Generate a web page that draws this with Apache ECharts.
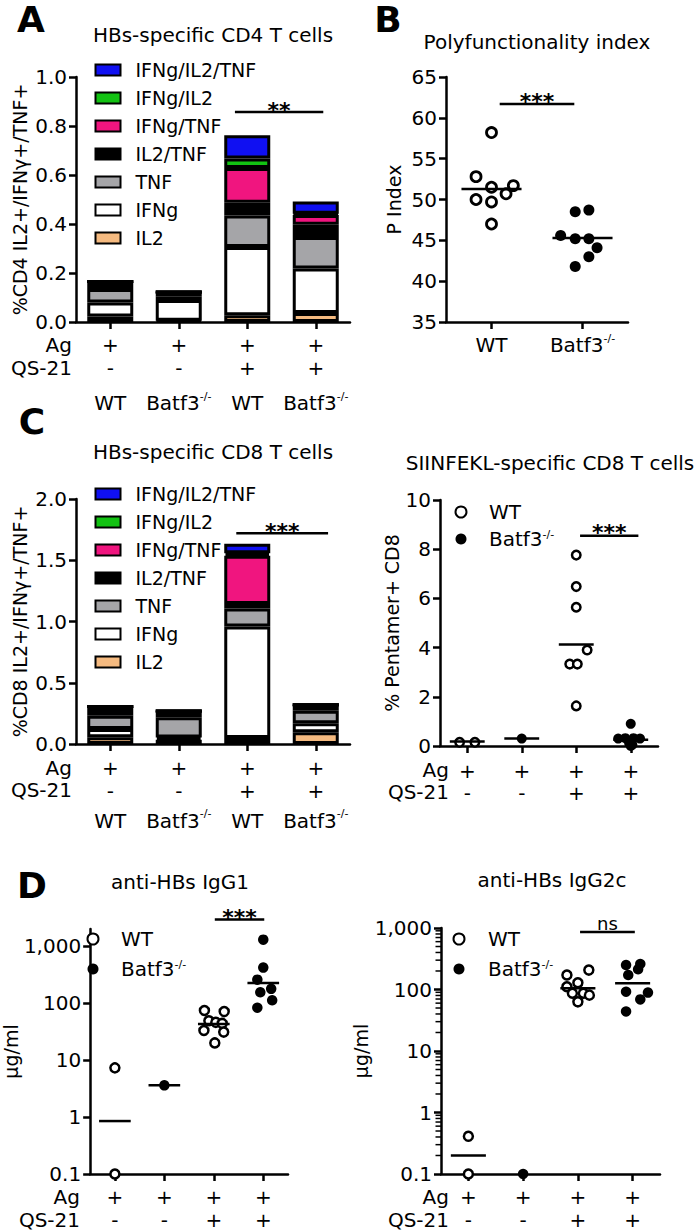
<!DOCTYPE html>
<html><head><meta charset="utf-8">
<script src="https://cdn.jsdelivr.net/npm/echarts@6/dist/echarts.min.js"></script>
<style>html,body{margin:0;padding:0;background:#fff}#c{width:700px;height:1231px}</style>
</head><body><div id="c"></div>
<script>
const FONT = 'DejaVu Sans';
// ---------- categories / tick rows ----------
const barGroups = ['WT', 'Batf3-/-', 'WT', 'Batf3-/-'];
const agRow = ['+', '+', '+', '+'];
const qsRow = ['-', '-', '+', '+'];
const bGroups = ['WT', 'Batf3-/-'];
const cytokines = ['IL2', 'IFNg', 'TNF', 'IL2/TNF', 'IFNg/TNF', 'IFNg/IL2', 'IFNg/IL2/TNF'];
const cytoColors = ['#F5BA80', '#FFFFFF', '#A5A5A8', '#000000', '#F0157F', '#12C212', '#1010F2'];
const logTicks = [0.1, 1, 10, 100, 1000];

// ---------- Panel A: CD4 stacked bars ----------
const aIL2     = [0.022, 0.005, 0.028, 0.037];
const aIFNg    = [0.058, 0.085, 0.278, 0.181];
const aTNF     = [0.055, 0.015, 0.129, 0.129];
const aIL2TNF  = [0.030, 0.017, 0.052, 0.050];
const aIFNgTNF = [0, 0, 0.142, 0.040];
const aIFNgIL2 = [0, 0, 0.038, 0.005];
const aTriple  = [0, 0, 0.095, 0.050];
const aSig = [[1.82, 3.11, 0.857]]; const aSigText = ['**'];

// ---------- Panel B: polyfunctionality ----------
const bWT  = [58.2, 52.8, 51.5, 51.7, 50.7, 50.0, 49.7, 47.0];
const bWTdx = [0, -0.17, 0, 0.24, 0.16, -0.17, 0, 0];
const bKO  = [48.5, 48.7, 45.6, 45.2, 45.2, 44.1, 43.0, 41.8];
const bKOdx = [-0.08, 0.07, -0.24, -0.08, 0.07, 0.16, 0.07, -0.08];
const bMeans = [51.3, 45.3];
const bSig = [[0.09, 0.91, 61.7]]; const bSigText = ['***'];

// ---------- Panel C left: CD8 stacked bars ----------
const cIL2     = [0.055, 0.035, 0.049, 0.095];
const cIFNg    = [0.067, 0.018, 0.911, 0.074];
const cTNF     = [0.109, 0.165, 0.146, 0.103];
const cIL2TNF  = [0.075, 0.052, 0.036, 0.048];
const cIFNgTNF = [0, 0, 0.395, 0];
const cIFNgIL2 = [0, 0, 0.020, 0];
const cTriple  = [0, 0, 0.078, 0];
const cSig = [[1.84, 3.18, 1.72]]; const cSigText = ['***'];

// ---------- Panel C right: pentamer ----------
const pWT0 = [0.15, 0.15];                          const pWT0dx = [-0.14, 0.14];
const pKO1 = [0.30];                                const pKO1dx = [0];
const pWT2 = [7.76, 6.48, 5.64, 3.9, 3.33, 3.33, 1.63]; const pWT2dx = [0, 0, 0, 0.2, -0.12, 0.02, 0];
const pKO3 = [0.9, 0.3, 0.32, 0.32, 0.3, 0.12, 0.05, 0.0]; const pKO3dx = [0, -0.23, -0.1, 0.05, 0.17, -0.03, 0.03, 0];
const pMeans = [0.18, 0.30, 4.13, 0.25];
const pSig = [[2.07, 3.14, 8.55]]; const pSigText = ['***'];

// ---------- Panel D left: IgG1 ----------
const g1WT0 = [7.3, 0.1];      const g1WT0dx = [0, 0];
const g1KO1 = [3.6];           const g1KO1dx = [0];
const g1WT2 = [74, 71, 49, 46, 44, 33, 31, 20]; const g1WT2dx = [-0.19, 0.21, -0.1, 0.04, 0.17, -0.2, 0.2, 0.02];
const g1KO3 = [1300, 420, 258, 178, 155, 112, 83]; const g1KO3dx = [0, 0, -0.12, 0.16, -0.06, 0.18, -0.12];
const g1Means = [0.85, 3.6, 43, 225];
const g1Sig = [[2.02, 3.02, 2950]]; const g1SigText = ['***'];

// ---------- Panel D right: IgG2c ----------
const g2WT0 = [0.41, 0.1];     const g2WT0dx = [0, 0];
const g2KO1 = [0.1];           const g2KO1dx = [0];
const g2WT2 = [207, 172, 129, 111, 87, 87, 81, 63]; const g2WT2dx = [0.2, -0.2, 0, -0.2, -0.1, 0.1, 0.21, 0];
const g2KO3 = [250, 260, 213, 172, 92, 89, 69, 44]; const g2KO3dx = [-0.12, 0.14, 0.1, -0.08, -0.12, 0.28, 0.14, -0.12];
const g2Means = [0.2, null, 105, 126];
const g2Sig = [[2.04, 3.04, 861]]; const g2SigText = ['ns'];
// log minor tick positions (2..9 within each decade) for the IgG2c axis
const logMinorSteps = [2, 3, 4, 5, 6, 7, 8, 9];
const logDecades = [0.1, 1, 10, 100];

// ---------- helpers ----------
const chart = echarts.init(document.getElementById('c'), null, {renderer: 'svg'});
const axisLine = {show: true, onZero: false, lineStyle: {color: '#000', width: 2.5}};
const axisTick = {show: true, length: 7, lineStyle: {color: '#000', width: 2.5}};
const lbl = {fontFamily: FONT, fontSize: 20, color: '#000'};

function rich(L) {
  return {
    p: {fontFamily: FONT, color: '#000', fontSize: 20, lineHeight: 23},
    q: {fontFamily: FONT, color: '#000', fontSize: 20, lineHeight: 22},
    g: {fontFamily: FONT, color: '#000', fontSize: 20, lineHeight: L},
    s: {fontFamily: FONT, color: '#000', fontSize: 11, verticalAlign: 'top',
        padding: [Math.max(L / 2 - 12.5, 0), 0, 0, 0]}
  };
}
function grp(name) {
  return name.endsWith('-/-') ? '{g|' + name.slice(0, -3) + '}{s|-/-}' : '{g|' + name + '}';
}
function pts(list) { // list of [groupIndex, values, offsets]
  const out = [];
  list.forEach(([g, vals, dx]) => vals.forEach((v, i) => out.push([g + dx[i], v])));
  return out;
}
function meanItem(hw) {
  return function (params, api) {
    const x = api.value(0), y = api.value(1);
    const a = api.coord([x - hw, y]), b = api.coord([x + hw, y]);
    return {type: 'line', shape: {x1: a[0], y1: a[1], x2: b[0], y2: b[1]}, style: {stroke: '#000', lineWidth: 2.5}};
  };
}
function sigItem(texts, fontSize, dy, bold) {
  return function (params, api) {
    const a = api.coord([api.value(0), api.value(2)]), b = api.coord([api.value(1), api.value(2)]);
    return {type: 'group', children: [
      {type: 'line', shape: {x1: a[0], y1: a[1], x2: b[0], y2: a[1]}, style: {stroke: '#000', lineWidth: 2.5}},
      {type: 'text', style: {text: texts[params.dataIndex], x: (a[0] + b[0]) / 2, y: a[1] + dy,
        align: 'center', verticalAlign: 'middle', textAlign: 'center', textVerticalAlign: 'middle',
        fontFamily: FONT, fontSize: fontSize, fontWeight: bold ? 'bold' : 'normal', fill: '#000'}}
    ]};
  };
}
function minorTickItem(len) {
  return function (params, api) {
    const p = api.coord([api.value(0), api.value(1)]);
    return {type: 'line', shape: {x1: p[0] - len, y1: p[1], x2: p[0], y2: p[1]}, style: {stroke: '#000', lineWidth: 1.5}};
  };
}
function logLabel(v) {
  const l = Math.log10(v);
  if (Math.abs(l - Math.round(l)) > 1e-6) return '';
  return Math.pow(10, Math.round(l)).toLocaleString('en-US');
}

// ---------- grids ----------
const grids = [
  {left: 76, top: 77, width: 274, height: 245},   // A
  {left: 446, top: 77, width: 182, height: 245},  // B
  {left: 76, top: 499, width: 274, height: 245},  // C left
  {left: 440, top: 500, width: 218, height: 246}, // C right
  {left: 72, top: 929, width: 216, height: 245},  // D left
  {left: 441, top: 928, width: 219, height: 246}  // D right
];

function catAxis(gi, data, formatter, margin, richObj) {
  return {type: 'category', gridIndex: gi, data: data,
    axisLine: axisLine, axisTick: Object.assign({alignWithLabel: true}, axisTick),
    axisLabel: {interval: 0, margin: margin, formatter: formatter, rich: richObj, color: '#000'},
    splitLine: {show: false}};
}
function hidX(gi, n) { return {type: 'value', gridIndex: gi, min: -0.5, max: n - 0.5, show: false}; }

const barFmt = (v, i) => '{p|' + agRow[i] + '}\n{p|' + qsRow[i] + '}\n' + grp(barGroups[i]);
const rowFmt = (v, i) => '{p|' + agRow[i] + '}\n{q|' + qsRow[i] + '}';
const cats = barGroups.map((g, i) => g + ' ' + agRow[i] + qsRow[i] + i);

const xAxes = [
  catAxis(0, cats, barFmt, 11.5, rich(47)), hidX(0, 4),
  catAxis(1, bGroups, (v) => grp(v), 10, rich(26)), hidX(1, 2),
  catAxis(2, cats, barFmt, 12.5, rich(36)), hidX(2, 4),
  catAxis(3, cats, rowFmt, 13, rich(23)), hidX(3, 4),
  catAxis(4, cats, rowFmt, 11.5, rich(23)), hidX(4, 4),
  catAxis(5, cats, rowFmt, 11.5, rich(23)), hidX(5, 4)
];

function valAxis(gi, o) {
  return Object.assign({type: 'value', gridIndex: gi, axisLine: axisLine, axisTick: axisTick,
    splitLine: {show: false}, nameLocation: 'middle', nameRotate: 90,
    nameTextStyle: {fontFamily: FONT, fontSize: 19, color: '#000'},
    axisLabel: Object.assign({margin: 9}, lbl)}, o);
}
const yAxes = [
  valAxis(0, {min: 0, max: 1, interval: 0.2, name: '%CD4 IL2+/IFNγ+/TNF+', nameGap: 47,
    axisLabel: Object.assign({margin: 9, formatter: v => v.toFixed(1)}, lbl)}),
  valAxis(1, {min: 35, max: 65, interval: 5, name: 'P Index', nameGap: 43}),
  valAxis(2, {min: 0, max: 2, interval: 0.5, name: '%CD8 IL2+/IFNγ+/TNF+', nameGap: 47,
    axisLabel: Object.assign({margin: 9, formatter: v => v.toFixed(1)}, lbl)}),
  valAxis(3, {min: 0, max: 10, interval: 2, name: '% Pentamer+ CD8', nameGap: 38}),
  valAxis(4, {type: 'log', logBase: 10, min: 0.1, max: 2000, name: 'µg/ml', nameGap: 49,
    axisTick: Object.assign({customValues: logTicks}, axisTick),
    axisLabel: Object.assign({margin: 9, formatter: logLabel, customValues: logTicks}, lbl)}),
  valAxis(5, {type: 'log', logBase: 10, min: 0.1, max: 1000, name: 'µg/ml', nameGap: 49,
    axisLabel: Object.assign({margin: 9, formatter: logLabel}, lbl)})
];

// ---------- series ----------
const series = [];
const aData = [aIL2, aIFNg, aTNF, aIL2TNF, aIFNgTNF, aIFNgIL2, aTriple];
const cData = [cIL2, cIFNg, cTNF, cIL2TNF, cIFNgTNF, cIFNgIL2, cTriple];
function addBars(data, xi, yi, stack) {
  cytokines.forEach((name, k) => series.push({
    type: 'bar', name: name, stack: stack, xAxisIndex: xi, yAxisIndex: yi, data: data[k],
    barWidth: 46, itemStyle: {color: cytoColors[k], borderColor: '#000', borderWidth: 3},
    emphasis: {disabled: true}, silent: true
  }));
}
addBars(aData, 0, 0, 'A');
addBars(cData, 4, 2, 'C');

const openStyle = (s, b) => ({symbol: 'circle', symbolSize: s, itemStyle: {color: '#fff', borderColor: '#000', borderWidth: b, opacity: 1}});
const fillStyle = (s) => ({symbol: 'circle', symbolSize: s, itemStyle: {color: '#000', borderColor: '#000', borderWidth: 0, opacity: 1}});
function addScatter(name, xi, yi, data, style) {
  series.push(Object.assign({type: 'scatter', name: name, xAxisIndex: xi, yAxisIndex: yi, data: data,
    emphasis: {disabled: true}, silent: true, z: 3}, style));
}
function addMeans(xi, yi, means, hw) {
  series.push({type: 'custom', name: 'mean', xAxisIndex: xi, yAxisIndex: yi, silent: true, z: 4,
    data: means.map((m, i) => m == null ? null : [i, m]).filter(d => d),
    encode: {x: 0, y: 1}, renderItem: meanItem(hw)});
}
function addSig(xi, yi, sig, texts, fs, dy, bold) {
  series.push({type: 'custom', name: 'sig', xAxisIndex: xi, yAxisIndex: yi, silent: true, clip: false, z: 5,
    data: sig, encode: {x: [0, 1], y: 2}, renderItem: sigItem(texts, fs, dy, bold)});
}
addSig(1, 0, aSig, aSigText, 22, -2, true);
addSig(5, 2, cSig, cSigText, 22, -2, true);
// B
addScatter('WT', 3, 1, pts([[0, bWT, bWTdx]]), openStyle(10, 2.8));
addScatter('Batf3-/-', 3, 1, pts([[1, bKO, bKOdx]]), fillStyle(11));
addMeans(3, 1, bMeans, 0.33);
addSig(3, 1, bSig, bSigText, 22, -2, true);
// C right
addScatter('WT', 7, 3, pts([[0, pWT0, pWT0dx], [2, pWT2, pWT2dx]]), openStyle(8.5, 2.5));
addScatter('Batf3-/-', 7, 3, pts([[1, pKO1, pKO1dx], [3, pKO3, pKO3dx]]), fillStyle(10));
addMeans(7, 3, pMeans, 0.32);
addSig(7, 3, pSig, pSigText, 22, -3, true);
// D left
addScatter('WT', 9, 4, pts([[0, g1WT0, g1WT0dx], [2, g1WT2, g1WT2dx]]), openStyle(9, 2.5));
addScatter('Batf3-/-', 9, 4, pts([[1, g1KO1, g1KO1dx], [3, g1KO3, g1KO3dx]]), fillStyle(10.5));
addMeans(9, 4, g1Means, 0.32);
addSig(9, 4, g1Sig, g1SigText, 22, -2, true);
// D right
addScatter('WT', 11, 5, pts([[0, g2WT0, g2WT0dx], [2, g2WT2, g2WT2dx]]), openStyle(9, 2.5));
addScatter('Batf3-/-', 11, 5, pts([[1, g2KO1, g2KO1dx], [3, g2KO3, g2KO3dx]]), fillStyle(10.5));
addMeans(11, 5, g2Means, 0.32);
addSig(11, 5, g2Sig, g2SigText, 18, -8, false);
// D right: log minor ticks on the y axis (drawn at the axis' left edge, x = -0.5)
const d2Minor = [];
logDecades.forEach(d => logMinorSteps.forEach(m => d2Minor.push([-0.5, +(d * m).toPrecision(3)])));
series.push({type: 'custom', name: 'minor', xAxisIndex: 11, yAxisIndex: 5, silent: true, clip: false, z: 6,
  data: d2Minor, encode: {x: 0, y: 1}, renderItem: minorTickItem(5.5)});

// ---------- legends ----------
const legRich = {n: {fontFamily: FONT, fontSize: 20, color: '#000', lineHeight: 20},
                 s: {fontFamily: FONT, fontSize: 11, color: '#000', verticalAlign: 'top'}};
const legFmt = (n) => n.endsWith('-/-') ? '{n|' + n.slice(0, -3) + '}{s|-/-}' : '{n|' + n + '}';
function barLegend(top) {
  return {orient: 'vertical', left: 94.5, top: top, padding: 0, itemWidth: 25, itemHeight: 11, itemGap: 9,
    selectedMode: false, data: cytokines.slice().reverse(), icon: 'rect',
    textStyle: {fontFamily: FONT, fontSize: 19, color: '#000', lineHeight: 16, padding: [0, 0, 0, 10]}};
}
function dotLegend(left, top, gap, pad) {
  return {orient: 'vertical', left: left, top: top, padding: 0, itemWidth: 11, itemHeight: 11, itemGap: gap,
    selectedMode: false, data: ['WT', 'Batf3-/-'], icon: 'circle', formatter: legFmt,
    textStyle: {fontFamily: FONT, fontSize: 20, color: '#000', lineHeight: 20, padding: [0, 0, 0, pad], rich: legRich}};
}
const legends = [
  barLegend(60.5), barLegend(484.5),
  dotLegend(454.5, 502, 7, 17.5),
  dotLegend(86.5, 929, 10, 17.5),
  dotLegend(452.5, 929, 10, 18.5)
];

// ---------- titles ----------
const titleSpec = [
  ['HBs-specific CD4 T cells', 213, 35],
  ['Polyfunctionality index', 537, 42],
  ['HBs-specific CD8 T cells', 213, 452],
  ['SIINFEKL-specific CD8 T cells', 550, 463],
  ['anti-HBs IgG1', 180, 882],
  ['anti-HBs IgG2c', 552, 880]
];
const titles = titleSpec.map(([t, x, y]) => ({text: t, left: x, top: y - 10, textAlign: 'center', padding: 0,
  textStyle: {fontFamily: FONT, fontSize: 20, fontWeight: 'normal', color: '#000', lineHeight: 20}}));

// ---------- free text: panel letters, row names ----------
function gtext(t, x, y, align, size, weight, lh) {
  return {type: 'text', x: x, y: y, silent: true, style: {text: t, align: align, verticalAlign: 'middle',
    textAlign: align, textVerticalAlign: 'middle', lineHeight: lh, fontFamily: FONT, fontSize: size, fontWeight: weight, fill: '#000'}};
}
const letters = [['A', 31, 19], ['B', 388, 19], ['C', 32, 421], ['D', 32, 885]];
const rowNames = [[72, 345, 368], [72, 768, 790], [449, 770, 792], [80, 1197, 1220], [449, 1197, 1220]];
const graphics = [];
letters.forEach(([t, x, y]) => graphics.push(gtext(t, x, y, 'center', 36, 'bold', 30)));
rowNames.forEach(([x, y1, y2]) => {
  graphics.push(gtext('Ag', x, y1, 'right', 20, 'normal', 18));
  graphics.push(gtext('QS-21', x, y2, 'right', 20, 'normal', 18));
});

chart.setOption({
  animation: false,
  backgroundColor: '#fff',
  textStyle: {fontFamily: FONT},
  title: titles,
  grid: grids,
  xAxis: xAxes,
  yAxis: yAxes,
  legend: legends,
  series: series,
  graphic: {elements: graphics}
});
</script></body></html>
